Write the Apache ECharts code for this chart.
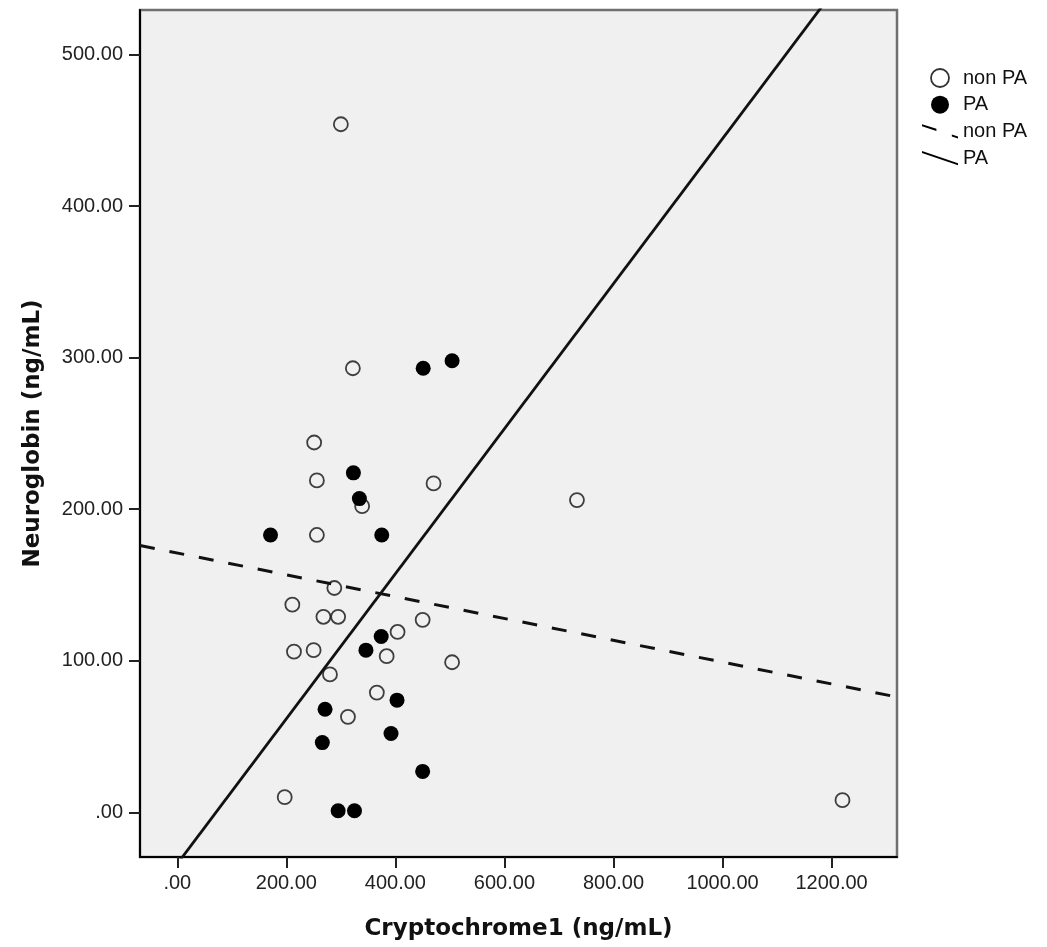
<!DOCTYPE html>
<html>
<head>
<meta charset="utf-8">
<script src="https://cdn.jsdelivr.net/npm/echarts@6/dist/echarts.min.js"></script>
<style>
  html, body { margin: 0; padding: 0; background: #fff; }
  #chart { width: 1047px; height: 947px; }
</style>
</head>
<body>
<div id="chart"></div>
<script>
// tick labels
const xTicks = [0, 200, 400, 600, 800, 1000, 1200];
const yTicks = [0, 100, 200, 300, 400, 500];

// Cryptochrome1 / Neuroglobin pairs
const nonPaPoints = [
  [300, 454], [322, 293], [251, 244], [256, 219], [339, 202], [470, 217],
  [256, 183], [733, 206], [288, 148], [211, 137], [268, 129], [295, 129],
  [404, 119], [450, 127], [384, 103], [214, 106], [250, 107], [504, 99],
  [280, 91], [366, 79], [313, 63], [197, 10], [1220, 8]
];
const paPoints = [
  [451, 293], [504, 298], [323, 224], [334, 207], [171, 183], [375, 183],
  [374, 116], [346, 107], [403, 74], [271, 68], [392, 52], [266, 46],
  [450, 27], [295, 1], [325, 1]
];

// fit lines: [intercept, slope]
const nonPaFit = [171.1, -0.072];
const paFit = [-34.0, 0.4785];

const xRange = [-68.4, 1320];
const yRange = [-29.5, 529.4];

const fmt = v => (v === 0 ? '.00' : v.toFixed(2));
const fitLine = f => xRange.map(x => [x, f[0] + f[1] * x]);

const myChart = echarts.init(document.getElementById('chart'));

const labelFont = { fontFamily: 'Liberation Sans, Arial, sans-serif', fontSize: 20, color: '#222' };
const nameFont = { fontFamily: 'DejaVu Sans, sans-serif', fontWeight: 'bold', fontSize: 23, color: '#111' };

myChart.setOption({
  animation: false,
  backgroundColor: '#fff',
  grid: {
    left: 140, right: 150, top: 10, bottom: 90,
    show: true,
    backgroundColor: '#f0f0f0',
    borderColor: '#707070',
    borderWidth: 2.5
  },
  legend: {
    orient: 'vertical',
    left: 917,
    top: 63,
    itemWidth: 36,
    itemHeight: 18,
    itemGap: 6.7,
    symbolKeepAspect: true,
    textStyle: { fontFamily: 'Liberation Sans, Arial, sans-serif', fontSize: 20, color: '#111', lineHeight: 20 },
    formatter: name => name.replace(' line', ''),
    data: [
      { name: 'non PA', icon: 'circle', itemStyle: { color: 'transparent', borderColor: '#000', borderWidth: 1.8 } },
      { name: 'PA', icon: 'circle', itemStyle: { color: '#000', borderWidth: 0 } },
      { name: 'non PA line', icon: 'path://M0,0 L14,4.5 L14,6.5 L0,2 Z M29,10 L35,12 L35,14 L29,12 Z', itemStyle: { color: '#000', borderWidth: 0 } },
      { name: 'PA line', icon: 'path://M0,0 L35,12 L35,14 L0,2 Z', itemStyle: { color: '#000', borderWidth: 0 } }
    ]
  },
  xAxis: {
    type: 'value',
    min: xRange[0],
    max: xRange[1],
    name: 'Cryptochrome1 (ng/mL)',
    nameLocation: 'middle',
    nameGap: 61,
    nameTextStyle: nameFont,
    axisLine: { show: true, onZero: false, lineStyle: { color: '#000', width: 2 } },
    axisTick: { show: true, length: 11, customValues: xTicks, lineStyle: { color: '#222', width: 2 } },
    axisLabel: { customValues: xTicks, formatter: fmt, margin: 16, ...labelFont },
    splitLine: { show: false }
  },
  yAxis: {
    type: 'value',
    min: yRange[0],
    max: yRange[1],
    name: 'Neuroglobin (ng/mL)',
    nameLocation: 'middle',
    nameGap: 95,
    nameTextStyle: nameFont,
    axisLine: { show: true, onZero: false, lineStyle: { color: '#000', width: 2 } },
    axisTick: { show: true, length: 11, customValues: yTicks, lineStyle: { color: '#222', width: 2 } },
    axisLabel: { customValues: yTicks, formatter: fmt, margin: 17, ...labelFont },
    splitLine: { show: false }
  },
  series: [
    {
      name: 'non PA',
      type: 'scatter',
      data: nonPaPoints,
      symbol: 'circle',
      symbolSize: 14,
      itemStyle: { color: 'transparent', borderColor: '#111', borderWidth: 1.8 }
    },
    {
      name: 'PA',
      type: 'scatter',
      data: paPoints,
      symbol: 'circle',
      symbolSize: 15,
      itemStyle: { color: '#000', opacity: 1 }
    },
    {
      name: 'non PA line',
      type: 'line',
      data: fitLine(nonPaFit),
      showSymbol: false,
      symbol: 'none',
      clip: true,
      itemStyle: { color: '#000' },
      lineStyle: { color: '#111', width: 3, type: [15, 15] }
    },
    {
      name: 'PA line',
      type: 'line',
      data: fitLine(paFit),
      showSymbol: false,
      symbol: 'none',
      clip: true,
      itemStyle: { color: '#000' },
      lineStyle: { color: '#111', width: 2.8 }
    }
  ]
});
</script>
</body>
</html>
